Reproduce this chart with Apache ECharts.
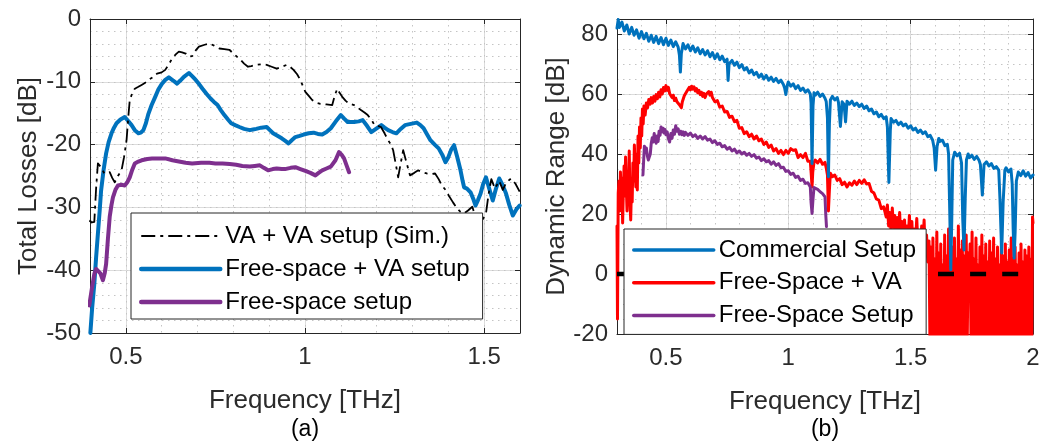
<!DOCTYPE html>
<html>
<head>
<meta charset="utf-8">
<script src="https://cdn.jsdelivr.net/npm/echarts@6/dist/echarts.min.js"></script>
<style>
html,body{margin:0;padding:0;background:#fff;}
#c{width:1049px;height:441px;}
</style>
</head>
<body>
<div id="c"></div>
<script>
// ---------- Panel (a): Total losses [dB] vs frequency [THz] ----------
const lossXTicks = [0.5, 1, 1.5];
const lossYTicks = [-50, -40, -30, -20, -10, 0];
const lossNames = ['VA + VA setup (Sim.)', 'Free-space + VA setup', 'Free-space setup'];

const simLoss = [[0.398,-32.1],[0.405,-32.4],[0.412,-32.3],[0.417,-27],[0.422,-23],[0.431,-23.6],[0.44,-24.6],[0.455,-24.4],[0.462,-25.3],[0.469,-26],[0.478,-25],[0.488,-24.1],[0.495,-22],[0.502,-19.3],[0.507,-15.5],[0.511,-12.9],[0.518,-11.8],[0.525,-11.1],[0.535,-10.8],[0.544,-10.5],[0.553,-10.2],[0.563,-9.7],[0.575,-9.3],[0.587,-8.7],[0.6,-8.5],[0.61,-8.1],[0.62,-7.2],[0.629,-6.3],[0.64,-5.6],[0.648,-5.2],[0.657,-5.3],[0.667,-5.5],[0.677,-6],[0.685,-5.9],[0.695,-5],[0.704,-4.4],[0.72,-4.1],[0.733,-3.9],[0.745,-4.2],[0.761,-4.7],[0.775,-4.8],[0.789,-4.9],[0.8,-5.5],[0.81,-6],[0.817,-6.3],[0.83,-7.1],[0.841,-7.6],[0.85,-7.5],[0.864,-7.3],[0.878,-7.2],[0.893,-7.3],[0.907,-7.6],[0.921,-7.9],[0.935,-7.6],[0.949,-7.3],[0.958,-7.6],[0.968,-8.1],[0.978,-8.8],[0.987,-9.7],[0.995,-10.8],[1.001,-11.6],[1.01,-12.2],[1.02,-12.9],[1.03,-13.3],[1.043,-13.5],[1.06,-13.6],[1.076,-13.7],[1.083,-12.2],[1.09,-11.1],[1.097,-11.8],[1.104,-12.4],[1.113,-13],[1.123,-13.5],[1.137,-13.7],[1.147,-14.1],[1.156,-14.5],[1.166,-14.9],[1.175,-15.3],[1.185,-16],[1.194,-16.9],[1.203,-17],[1.212,-17.2],[1.222,-18.2],[1.232,-19.3],[1.24,-20],[1.246,-20.9],[1.253,-23],[1.26,-25.2],[1.267,-23],[1.274,-20.9],[1.283,-22.8],[1.293,-24.9],[1.305,-24.5],[1.316,-24.1],[1.328,-24.4],[1.34,-24.6],[1.352,-24.7],[1.363,-24.6],[1.373,-25.5],[1.382,-26.5],[1.392,-27.2],[1.401,-28.1],[1.413,-29.2],[1.425,-30.2],[1.434,-30.7],[1.443,-31],[1.455,-30.5],[1.467,-29.9],[1.477,-31.8],[1.487,-33.7],[1.495,-32],[1.505,-31],[1.512,-28],[1.52,-25.5],[1.53,-27],[1.542,-25.8],[1.552,-27.2],[1.562,-26],[1.575,-25.4],[1.587,-26.2],[1.599,-27.5]];

const fsvaLoss = [[0.401,-50],[0.406,-46],[0.412,-42.2],[0.417,-38],[0.422,-34.2],[0.427,-30.5],[0.431,-27.3],[0.438,-24],[0.445,-21.4],[0.452,-19.6],[0.46,-18.2],[0.467,-17.3],[0.474,-16.6],[0.485,-16],[0.497,-15.6],[0.506,-16.2],[0.516,-16.9],[0.525,-17.7],[0.535,-18.2],[0.542,-18.1],[0.549,-17.7],[0.556,-16.6],[0.563,-15.1],[0.572,-13.7],[0.582,-12.4],[0.591,-11.2],[0.601,-10.3],[0.61,-9.7],[0.62,-9.3],[0.632,-9.8],[0.643,-10.3],[0.652,-9.8],[0.662,-9.2],[0.676,-8.6],[0.685,-9.1],[0.695,-9.7],[0.705,-10.4],[0.714,-11.1],[0.725,-11.9],[0.737,-12.7],[0.746,-13.2],[0.756,-13.7],[0.765,-14.5],[0.775,-15.3],[0.785,-16],[0.794,-16.6],[0.805,-16.9],[0.817,-17.2],[0.83,-17.5],[0.846,-17.7],[0.855,-17.6],[0.864,-17.5],[0.878,-17.3],[0.893,-17.2],[0.902,-17.7],[0.911,-18.2],[0.923,-18.6],[0.935,-19],[0.945,-19.4],[0.954,-19.8],[0.963,-19.3],[0.973,-18.8],[0.985,-18.6],[0.996,-18.4],[1.01,-18.2],[1.024,-18.1],[1.036,-18.3],[1.048,-18.4],[1.06,-18],[1.072,-17.4],[1.086,-16.3],[1.1,-15.3],[1.11,-15.9],[1.119,-16.4],[1.137,-16.4],[1.15,-16.3],[1.161,-16.1],[1.173,-17],[1.185,-18],[1.2,-17.4],[1.213,-16.9],[1.222,-17.3],[1.232,-17.7],[1.244,-18],[1.255,-18.2],[1.267,-17.5],[1.279,-16.9],[1.295,-16.7],[1.312,-16.5],[1.322,-16.9],[1.331,-17.4],[1.34,-18.3],[1.35,-19.3],[1.362,-20],[1.373,-20.6],[1.383,-21.6],[1.392,-22.8],[1.4,-22],[1.408,-20.8],[1.416,-20.1],[1.425,-22],[1.434,-24.1],[1.44,-25.8],[1.444,-26.8],[1.452,-27],[1.462,-27.6],[1.47,-28.7],[1.476,-29.7],[1.483,-28.8],[1.49,-27.8],[1.497,-26.3],[1.505,-25.2],[1.514,-27],[1.524,-28.9],[1.533,-27],[1.542,-25.4],[1.552,-26.5],[1.561,-27.8],[1.57,-29.6],[1.58,-31.3],[1.59,-30.3],[1.599,-29.7]];

const fsLoss = [[0.398,-45.6],[0.405,-43],[0.412,-40.6],[0.417,-39.8],[0.422,-39.5],[0.429,-40.5],[0.436,-41.6],[0.441,-40.5],[0.445,-39],[0.45,-35],[0.455,-31.5],[0.46,-29.6],[0.464,-28.4],[0.471,-27.2],[0.478,-26.5],[0.488,-26.4],[0.497,-26.5],[0.504,-26],[0.511,-25.2],[0.518,-24],[0.525,-23],[0.535,-22.7],[0.544,-22.5],[0.56,-22.3],[0.573,-22.2],[0.59,-22.2],[0.61,-22.2],[0.63,-22.5],[0.648,-22.7],[0.667,-22.9],[0.685,-23],[0.71,-22.9],[0.733,-22.9],[0.75,-23],[0.77,-23],[0.79,-23.1],[0.808,-23.2],[0.825,-23.4],[0.846,-23.5],[0.86,-23.4],[0.874,-23.3],[0.885,-23.7],[0.897,-24.1],[0.91,-23.9],[0.921,-23.8],[0.935,-23.9],[0.944,-23.9],[0.96,-23.7],[0.973,-23.6],[0.987,-23.9],[1.001,-24.2],[1.015,-24.5],[1.029,-24.9],[1.038,-24.5],[1.048,-24.1],[1.06,-23.8],[1.072,-23.5],[1.085,-22.5],[1.095,-21.2],[1.102,-21.6],[1.109,-22.2],[1.116,-23.3],[1.123,-24.4]];

// ---------- Panel (b): Dynamic range [dB] vs frequency [THz] ----------
const drXTicks = [0.5, 1, 1.5, 2];
const drYTicks = [-20, 0, 20, 40, 60, 80];
const drNames = ['Commercial Setup', 'Free-Space + VA', 'Free-Space Setup'];

const commercialDR = [[0.300,82.0],[0.305,84.8],[0.31,82.2],[0.32,84.0],[0.33,81.0],[0.34,83.0],[0.35,80.0],[0.36,82.2],[0.37,79.6],[0.38,81.4],[0.39,78.6],[0.40,80.8],[0.41,78.4],[0.42,80.2],[0.43,77.6],[0.44,79.6],[0.45,77.2],[0.46,79.2],[0.47,76.8],[0.48,78.8],[0.49,76.4],[0.50,78.6],[0.51,76.2],[0.52,78.0],[0.53,75.8],[0.54,77.4],[0.55,75.6],[0.555,73.0],[0.559,67.3],[0.563,73.5],[0.57,76.8],[0.58,75.0],[0.59,76.4],[0.60,74.4],[0.61,76.0],[0.62,74.0],[0.63,75.4],[0.64,73.4],[0.65,74.8],[0.66,73.0],[0.67,74.4],[0.68,72.4],[0.69,73.8],[0.70,71.8],[0.71,73.4],[0.72,71.4],[0.73,72.6],[0.74,70.8],[0.75,71.6],[0.754,64.5],[0.758,70.0],[0.77,71.2],[0.78,69.6],[0.79,70.6],[0.80,68.8],[0.81,69.8],[0.82,68.0],[0.83,68.8],[0.84,67.0],[0.85,68.0],[0.86,66.4],[0.87,67.2],[0.88,65.6],[0.89,66.6],[0.90,65.0],[0.91,66.2],[0.92,64.6],[0.93,65.6],[0.94,64.2],[0.95,65.2],[0.96,63.8],[0.97,64.6],[0.98,63.2],[0.985,62.0],[0.99,59.8],[0.995,62.6],[1.00,64.0],[1.01,62.6],[1.02,63.4],[1.03,61.8],[1.04,62.8],[1.05,61.2],[1.06,62.0],[1.07,60.6],[1.08,61.4],[1.09,60.0],[1.093,57.0],[1.097,36.8],[1.101,56.0],[1.105,60.4],[1.11,59.6],[1.12,60.6],[1.13,59.2],[1.14,60.0],[1.15,58.6],[1.155,57.5],[1.16,52.0],[1.164,32.4],[1.168,50.0],[1.172,58.0],[1.18,59.2],[1.19,58.0],[1.20,58.8],[1.205,57.2],[1.213,49.2],[1.22,57.4],[1.228,56.5],[1.234,50.7],[1.24,57.6],[1.25,56.6],[1.26,57.6],[1.27,56.2],[1.28,57.0],[1.29,55.8],[1.30,56.6],[1.31,55.2],[1.32,56.0],[1.33,54.4],[1.34,55.0],[1.35,53.4],[1.36,54.0],[1.37,52.4],[1.38,53.2],[1.39,51.8],[1.40,52.4],[1.405,49.0],[1.411,30.5],[1.417,48.0],[1.42,51.8],[1.43,50.6],[1.44,51.2],[1.45,49.8],[1.46,50.6],[1.47,49.4],[1.48,50.0],[1.49,48.6],[1.50,49.4],[1.51,48.0],[1.52,48.6],[1.53,47.2],[1.54,48.0],[1.55,46.8],[1.56,47.4],[1.57,45.8],[1.58,46.2],[1.59,44.6],[1.596,42.0],[1.602,34.6],[1.608,42.5],[1.615,45.2],[1.62,44.2],[1.63,44.6],[1.64,42.8],[1.65,43.2],[1.655,40.0],[1.660,20.0],[1.664,1.4],[1.668,18.0],[1.672,38.0],[1.68,40.6],[1.69,39.4],[1.70,40.2],[1.708,37.0],[1.713,18.0],[1.718,8.0],[1.723,25.0],[1.728,38.0],[1.735,40.0],[1.74,38.8],[1.75,39.6],[1.76,38.2],[1.77,39.2],[1.78,37.8],[1.785,36.5],[1.793,26.3],[1.80,36.5],[1.81,37.4],[1.82,36.0],[1.83,36.8],[1.84,35.2],[1.85,35.8],[1.86,34.6],[1.865,25.0],[1.872,7.0],[1.878,24.0],[1.885,34.6],[1.89,35.4],[1.90,34.0],[1.91,35.0],[1.915,30.0],[1.919,15.0],[1.923,5.3],[1.927,14.0],[1.932,31.0],[1.94,34.0],[1.95,32.8],[1.96,34.4],[1.97,32.6],[1.98,33.8],[1.99,32.0],[2.00,33.0]];

const fsvaDR = [[0.300,16],[0.302,-15],[0.305,27],[0.308,31],[0.311,21],[0.314,34],[0.317,25],[0.320,32],[0.323,17],[0.326,28],[0.329,36],[0.332,26],[0.335,39],[0.338,29],[0.341,21],[0.344,34],[0.347,27],[0.350,41],[0.353,24],[0.356,18],[0.359,29],[0.362,24],[0.365,37],[0.368,31],[0.371,43],[0.374,35],[0.377,29],[0.380,40],[0.383,28],[0.386,46],[0.389,37],[0.392,49],[0.395,42],[0.398,52],[0.401,46],[0.404,55],[0.407,50],[0.41,56],[0.415,53],[0.42,57],[0.425,55.4],[0.43,58.2],[0.435,56.6],[0.44,58.8],[0.445,57],[0.45,59.2],[0.455,57.6],[0.46,59.8],[0.465,58.4],[0.47,60.6],[0.475,59],[0.48,61.4],[0.485,60],[0.49,62.2],[0.495,61],[0.50,62.8],[0.505,61.2],[0.51,62.2],[0.515,60.2],[0.52,60.8],[0.525,58.8],[0.53,59.6],[0.535,57.8],[0.54,58.6],[0.545,57.4],[0.55,57.8],[0.555,56.4],[0.56,56.6],[0.563,55.4],[0.567,57.4],[0.57,58],[0.575,59.4],[0.58,59.2],[0.585,60.8],[0.59,60.6],[0.595,62.2],[0.60,61.4],[0.605,62.6],[0.61,61.6],[0.615,62.4],[0.62,61],[0.625,61.8],[0.63,60.4],[0.635,61.2],[0.64,59.8],[0.645,60.6],[0.65,59.2],[0.655,60.2],[0.66,58.8],[0.665,60],[0.67,59.4],[0.675,60.8],[0.68,59.6],[0.685,60.6],[0.69,58.8],[0.695,59.4],[0.70,57.4],[0.71,57.8],[0.72,55.6],[0.73,56],[0.74,54],[0.75,54.2],[0.76,52.2],[0.77,52.6],[0.78,50.8],[0.79,51.2],[0.80,48.6],[0.81,48.8],[0.82,46.8],[0.83,47.4],[0.84,45.8],[0.85,46.6],[0.86,45],[0.87,46],[0.88,44.4],[0.89,45],[0.90,43.2],[0.91,44],[0.92,42.2],[0.93,43],[0.94,41],[0.95,41.8],[0.96,40.2],[0.97,41.2],[0.98,39.8],[0.99,41.2],[1.00,40.2],[1.01,41.8],[1.02,41.2],[1.03,41.4],[1.04,38.8],[1.05,39.8],[1.06,38.8],[1.07,40.2],[1.08,37.6],[1.09,37.6],[1.094,33],[1.097,29],[1.10,34],[1.105,37.2],[1.11,38],[1.12,37],[1.13,38.2],[1.14,36.6],[1.15,37.2],[1.155,35.4],[1.16,33],[1.164,21],[1.168,28],[1.172,33.6],[1.18,32.4],[1.19,33],[1.20,31.2],[1.21,31.8],[1.22,29.8],[1.23,30.6],[1.24,29],[1.25,30.4],[1.26,29.6],[1.27,31],[1.28,29.8],[1.29,31.2],[1.30,30.2],[1.31,31.4],[1.32,30],[1.33,30.2],[1.34,27.6],[1.35,27],[1.36,25],[1.37,24.6],[1.38,21.8],[1.39,22.4],[1.40,19],[1.405,23],[1.41,16],[1.415,20.5],[1.42,14],[1.425,22],[1.43,15.5],[1.435,19.5],[1.44,12.5],[1.445,18.8],[1.45,14],[1.455,20.5],[1.46,11],[1.465,17.5],[1.47,13.5],[1.475,18],[1.48,9.5],[1.485,16],[1.49,12],[1.495,19.5],[1.50,10],[1.505,17.5],[1.51,8.5],[1.515,15],[1.52,11],[1.525,18.5],[1.53,9],[1.535,14.5],[1.54,7.5],[1.545,16],[1.55,10],[1.555,18],[1.56,6],[1.565,13],[1.57,4],[1.575,11],[1.579,-24],[1.583,9],[1.587,-26],[1.591,12],[1.595,-23],[1.599,5],[1.603,-25],[1.607,14],[1.611,-24],[1.615,7],[1.619,-26],[1.623,10],[1.627,-22],[1.631,3],[1.635,-25],[1.639,13],[1.643,-24],[1.647,6],[1.651,-26],[1.655,15],[1.659,-23],[1.663,4],[1.667,-25],[1.671,9],[1.675,-24],[1.679,12],[1.683,-26],[1.687,5],[1.691,-22],[1.695,16],[1.699,-25],[1.703,8],[1.707,-24],[1.711,11],[1.715,-26],[1.719,6],[1.723,-23],[1.727,13],[1.731,-24],[1.735,7],[1.739,-5],[1.743,10],[1.747,-25],[1.751,14],[1.755,-24],[1.759,5],[1.763,-26],[1.767,12],[1.771,-23],[1.775,3],[1.779,-25],[1.783,9],[1.787,-24],[1.791,13],[1.795,-26],[1.799,6],[1.803,-22],[1.807,10],[1.811,-25],[1.815,4],[1.819,-24],[1.823,11],[1.827,-26],[1.831,7],[1.835,-23],[1.839,12],[1.843,-25],[1.847,5],[1.851,-24],[1.855,9],[1.859,-26],[1.863,3],[1.867,-22],[1.871,11],[1.875,-25],[1.879,6],[1.883,-24],[1.887,10],[1.891,-26],[1.895,4],[1.899,-23],[1.903,8],[1.907,-25],[1.911,12],[1.915,-24],[1.919,5],[1.923,-26],[1.927,9],[1.931,-22],[1.935,3],[1.939,-25],[1.943,7],[1.947,-24],[1.951,10],[1.955,-26],[1.959,4],[1.963,-23],[1.967,8],[1.971,-25],[1.975,6],[1.979,-24],[1.983,9],[1.987,-26],[1.991,5],[1.995,-23],[1.998,19],[2.0,17]];

const fsDR = [[0.406,33],[0.409,38],[0.412,42.6],[0.416,40.5],[0.42,42],[0.424,39.4],[0.428,38],[0.432,37.4],[0.436,40],[0.44,43.6],[0.444,45.4],[0.448,44],[0.452,46.8],[0.456,45],[0.46,43.6],[0.464,46],[0.468,44.2],[0.472,47.6],[0.476,46.2],[0.48,49],[0.484,47.4],[0.488,48.6],[0.492,47],[0.496,48.2],[0.50,46.4],[0.505,47.4],[0.51,45.2],[0.515,44],[0.52,46.8],[0.525,45.2],[0.53,48],[0.535,46.6],[0.54,49.4],[0.545,47.6],[0.55,48.4],[0.555,46.6],[0.56,47.6],[0.565,46.4],[0.57,47.4],[0.575,46.2],[0.58,47.2],[0.59,46.2],[0.60,47],[0.61,45.8],[0.62,46.4],[0.63,45.2],[0.64,46],[0.65,45],[0.66,45.8],[0.67,44.6],[0.68,45],[0.69,43.8],[0.70,44.4],[0.71,43.2],[0.72,43.6],[0.73,42.4],[0.74,42.8],[0.75,41.6],[0.76,42.2],[0.77,41],[0.78,41.6],[0.79,40.4],[0.80,41],[0.81,40],[0.82,40.6],[0.83,39.6],[0.84,40.2],[0.85,39.2],[0.86,39.8],[0.87,38.6],[0.88,39],[0.89,37.8],[0.90,38.4],[0.91,37.4],[0.92,37.8],[0.93,36.6],[0.94,37.4],[0.95,36.2],[0.96,36.8],[0.97,35.4],[0.98,35.6],[0.99,34.2],[1.00,34.4],[1.01,33.2],[1.02,33.6],[1.03,32.2],[1.04,32.6],[1.05,31.2],[1.06,31.6],[1.07,30.2],[1.08,30.4],[1.09,29],[1.093,24],[1.097,20.2],[1.101,25],[1.105,28.8],[1.11,28.4],[1.12,28.2],[1.13,27.4],[1.14,26.8],[1.15,25.7],[1.153,20],[1.156,15.8]];

const noiseFloor = [[0.3, 0], [2.0, 0]];

// ---------- styling helpers ----------
const FONT = "'Liberation Sans', Arial, Helvetica, sans-serif";
const TXT = '#2b2b2b';
const AXC = '#262626';
const MAJ = '#dcdcdc';
const MIN = '#c4c4c4';

function mainX(grid, min, max, step, ticks) {
  return {
    type: 'value', gridIndex: grid, min: min, max: max, interval: step, position: 'bottom',
    name: 'Frequency [THz]', nameLocation: 'middle', nameGap: 55,
    nameTextStyle: {fontSize: 26, color: TXT, fontFamily: FONT},
    axisLine: {show: true, onZero: false, lineStyle: {color: AXC, width: 1}},
    axisTick: {show: true, inside: true, length: 5, customValues: ticks, lineStyle: {color: AXC}},
    axisLabel: {show: true, customValues: ticks, margin: 12, fontSize: 24, color: TXT, fontFamily: FONT,
      formatter: v => String(Math.round(v * 10) / 10)},
    splitLine: {show: true, lineStyle: {color: MAJ, width: 1}}
  };
}
function topX(grid, min, max, step, ticks) {
  return {
    type: 'value', gridIndex: grid, min: min, max: max, interval: step, position: 'top',
    axisLine: {show: true, onZero: false, lineStyle: {color: AXC, width: 1}},
    axisTick: {show: true, inside: true, length: 5, customValues: ticks, lineStyle: {color: AXC}},
    axisLabel: {show: false}, splitLine: {show: false}
  };
}
function minorX(grid, min, max, step) {
  return {
    type: 'value', gridIndex: grid, min: min, max: max, interval: step, position: 'bottom',
    axisLine: {show: false}, axisTick: {show: false}, axisLabel: {show: false},
    splitLine: {show: true, lineStyle: {color: MIN, width: 1, type: [1.5, 4.5]}}
  };
}
function mainY(grid, min, max, step, ticks, name, gap) {
  return {
    type: 'value', gridIndex: grid, min: min, max: max, interval: step, position: 'left',
    name: name, nameLocation: 'middle', nameGap: gap,
    nameTextStyle: {fontSize: 26, color: TXT, fontFamily: FONT},
    axisLine: {show: true, onZero: false, lineStyle: {color: AXC, width: 1}},
    axisTick: {show: true, inside: true, length: 5, customValues: ticks, lineStyle: {color: AXC}},
    axisLabel: {show: true, customValues: ticks, margin: 9, fontSize: 24, color: TXT, fontFamily: FONT},
    splitLine: {show: true, lineStyle: {color: MAJ, width: 1}}
  };
}
function rightY(grid, min, max, step, ticks) {
  return {
    type: 'value', gridIndex: grid, min: min, max: max, interval: step, position: 'right',
    axisLine: {show: true, onZero: false, lineStyle: {color: AXC, width: 1}},
    axisTick: {show: true, inside: true, length: 5, customValues: ticks, lineStyle: {color: AXC}},
    axisLabel: {show: false}, splitLine: {show: false}
  };
}
function minorY(grid, min, max, step) {
  return {
    type: 'value', gridIndex: grid, min: min, max: max, interval: step, position: 'left',
    axisLine: {show: false}, axisTick: {show: false}, axisLabel: {show: false},
    splitLine: {show: true, lineStyle: {color: MIN, width: 1, type: [1.5, 4.5]}}
  };
}
function lineSeries(name, data, xi, yi, color, width, z, dash) {
  return {
    name: name, type: 'line', data: data, xAxisIndex: xi, yAxisIndex: yi,
    showSymbol: false, symbol: 'none', z: z, clip: true, animation: false,
    lineStyle: {color: color, width: width, type: dash || 'solid', cap: dash ? 'butt' : 'round', join: 'round'},
    itemStyle: {color: color}
  };
}

const chart = echarts.init(document.getElementById('c'), null, {renderer: 'canvas'});
const hiddenMark = {color: 'rgba(0,0,0,0)', borderColor: 'rgba(0,0,0,0)', borderWidth: 0, opacity: 0};
const legendBase = {
  orient: 'vertical', itemWidth: 79, itemHeight: 14, backgroundColor: '#fff',
  borderColor: AXC, borderWidth: 1, borderRadius: 0, z: 20, selectedMode: false,
  itemStyle: hiddenMark,
  textStyle: {fontSize: 24, color: '#000', fontFamily: FONT}
};

chart.setOption({
  animation: false,
  backgroundColor: '#fff',
  grid: [
    {left: 90, top: 19, width: 430, height: 314, containLabel: false},
    {left: 617, top: 19, width: 416, height: 315, containLabel: false}
  ],
  xAxis: [
    mainX(0, 0.4, 1.6, 0.1, lossXTicks),
    topX(0, 0.4, 1.6, 0.1, lossXTicks),
    minorX(0, 0.4, 1.6, 0.1),
    mainX(1, 0.3, 2.0, 0.1, drXTicks),
    topX(1, 0.3, 2.0, 0.1, drXTicks),
    minorX(1, 0.3, 2.0, 0.1)
  ],
  yAxis: [
    mainY(0, -50, 0, 2, lossYTicks, 'Total Losses [dB]', 48),
    rightY(0, -50, 0, 2, lossYTicks),
    minorY(0, -50, 0, 2),
    mainY(1, -20, 85, 5, drYTicks, 'Dynamic Range [dB]', 42),
    rightY(1, -20, 85, 5, drYTicks),
    minorY(1, -20, 85, 5)
  ],
  legend: [
    Object.assign({}, legendBase, {
      left: 131, top: 213, padding: [11, 13, 5, 8], itemGap: 9,
      data: [
        {name: lossNames[0], lineStyle: {width: 2}, itemStyle: hiddenMark},
        {name: lossNames[1], lineStyle: {width: 4.5}, itemStyle: hiddenMark},
        {name: lossNames[2], lineStyle: {width: 4.5}, itemStyle: hiddenMark}
      ]
    }),
    Object.assign({}, legendBase, {
      left: 624, top: 229, padding: [9, 10, 7, 8], itemGap: 8.7, itemWidth: 80,
      data: [
        {name: drNames[0], lineStyle: {width: 3.5}, itemStyle: hiddenMark},
        {name: drNames[1], lineStyle: {width: 3.5}, itemStyle: hiddenMark},
        {name: drNames[2], lineStyle: {width: 3.5}, itemStyle: hiddenMark}
      ]
    })
  ],
  graphic: [
    {type: 'text', x: 305, y: 430, z: 30, style: {text: '(a)', fill: '#000', font: "23px " + FONT, align: 'center', verticalAlign: 'middle'}},
    {type: 'text', x: 825, y: 430, z: 30, style: {text: '(b)', fill: '#000', font: "23px " + FONT, align: 'center', verticalAlign: 'middle'}}
  ],
  series: [
    lineSeries(lossNames[1], fsvaLoss, 0, 0, '#0072BD', 4, 2),
    lineSeries(lossNames[2], fsLoss, 0, 0, '#7E2F8E', 4, 3),
    lineSeries(lossNames[0], simLoss, 0, 0, '#000000', 1.8, 4, [14, 5, 3, 5]),
    lineSeries(drNames[1], fsvaDR, 3, 3, '#FF0000', 3, 2),
    lineSeries(drNames[2], fsDR, 3, 3, '#7E2F8E', 3, 3),
    lineSeries(drNames[0], commercialDR, 3, 3, '#0072BD', 3, 4),
    lineSeries('', noiseFloor, 3, 3, '#000000', 4.5, 5, [16, 16.1])
  ]
});
</script>
</body>
</html>
